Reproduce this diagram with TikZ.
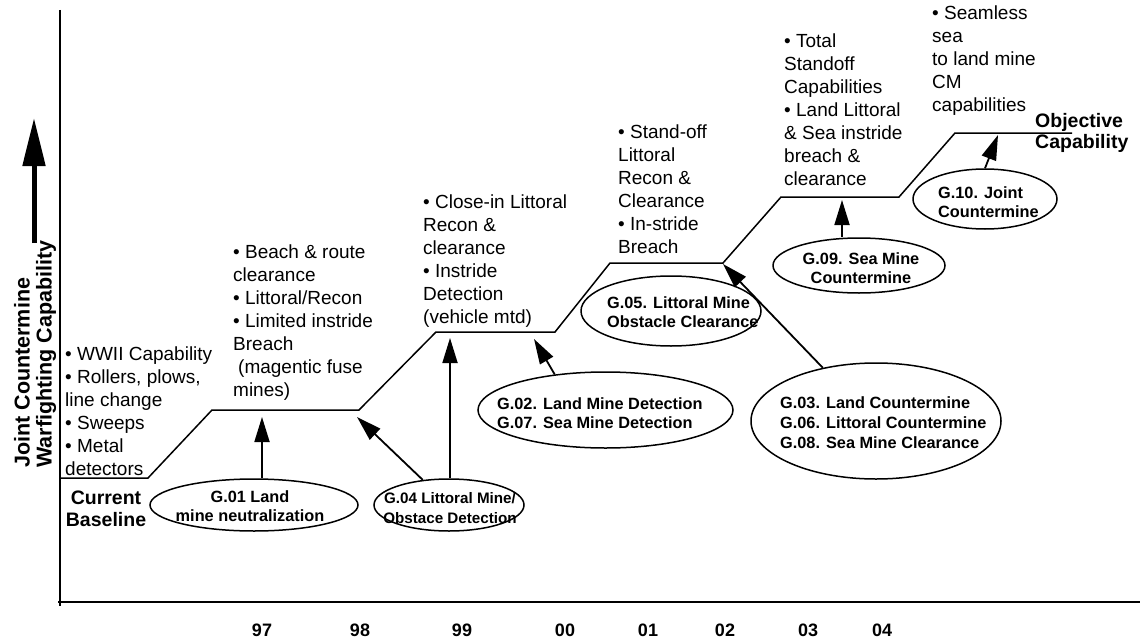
\documentclass[tikz,border=0pt]{standalone}
\usepackage{fontspec}
\setmainfont{Liberation Sans}
\usetikzlibrary{shapes.geometric,arrows.meta}

\begin{document}
\begin{tikzpicture}[x=1pt,y=-1pt,
  every node/.style={inner sep=0pt},
  bullets/.style={align=left, anchor=west, font=\fontsize{19}{23}\selectfont},
  goal/.style={draw, ellipse, line width=1.5pt, inner sep=0pt},
  goaltext/.style={font=\fontsize{16.3}{19.5}\selectfont\bfseries},
  boldlabel/.style={font=\fontsize{19.5}{21.5}\selectfont\bfseries},
  yearlabel/.style={font=\fontsize{18}{20}\selectfont\bfseries},
  feed/.style={line width=1.8pt, -{Triangle[length=25pt,width=15pt]}},
  stair/.style={line width=1.5pt},
]
\useasboundingbox (0,0) rectangle (1140,642);

% axes
\draw[line width=2pt] (60,10) -- (60,606);
\draw[line width=2pt] (58,602) -- (1140,602);

% vertical axis title with its arrow
\coordinate (ya) at (34,243);
\coordinate (yb) at (34,118);
\draw[line width=5pt, -{Triangle[length=48pt,width=22pt]}] (ya) -- (yb);
\node[rotate=90, anchor=west, align=left, font=\fontsize{21.5}{22}\selectfont\bfseries]
  (ylab) at (35,468) {Joint Countermine\\Warfighting Capability};

% capability staircase
\draw[stair] (60,478) -- (148,478) -- (212,410) -- (359,410) -- (436,332)
  -- (555,332) -- (610,263) -- (723,263) -- (781,197) -- (899,197)
  -- (955,133) -- (1072,133);

% end labels
\node[boldlabel, align=center] (base) at (106,509) {Current\\Baseline};
\node[boldlabel, align=left, anchor=west] (obj) at (1035,133) {Objective\\Capability};

% capability descriptions
\node[bullets] (c0) at (65,411) {• WWII Capability\\• Rollers, plows,\\line change\\• Sweeps\\• Metal\\detectors};
\node[bullets] (c1) at (233,323) {• Beach \& route\\clearance\\• Littoral/Recon\\• Limited instride\\Breach\\\hspace*{5pt}(magentic fuse\\mines)};
\node[bullets] (c2) at (423,261) {• Close-in Littoral\\Recon \&\\clearance\\• Instride\\Detection\\(vehicle mtd)};
\node[bullets] (c3) at (618,189) {• Stand-off\\Littoral\\Recon \&\\Clearance\\• In-stride\\Breach};
\node[bullets] (c4) at (784,110) {• Total\\Standoff\\Capabilities\\• Land Littoral\\\& Sea instride\\breach \&\\clearance};
\node[bullets] (c5) at (932,61) {• Seamless\\sea\\to land mine\\CM\\capabilities};

% goal ellipses
\node[goal, minimum width=208pt, minimum height=52pt] (g01) at (254,505) {};
\node[goal, minimum width=150pt, minimum height=52pt] (g04) at (449,505) {};
\node[goal, minimum width=255pt, minimum height=76pt] (g02) at (605.5,410) {};
\node[goal, minimum width=180pt, minimum height=70pt] (g05) at (671,311) {};
\node[goal, minimum width=250pt, minimum height=116pt] (g03) at (876,421) {};
\node[goal, minimum width=172pt, minimum height=55pt] (g09) at (859,265.5) {};
\node[goal, minimum width=144pt, minimum height=60pt] (g10) at (985,199) {};

\node[goaltext, align=center] (g01t) at (250,506) {G.01 Land\\mine neutralization};
\node[goaltext, align=center, font=\fontsize{15.2}{19.5}\selectfont\bfseries] (g04t) at (450,508) {G.04 Littoral Mine/\\Obstace Detection};
\node[goaltext, align=left, anchor=west] (g02t) at (497,413) {G.02. Land Mine Detection\\G.07. Sea Mine Detection};
\node[goaltext, align=left, anchor=west] (g05t) at (607,312) {G.05. Littoral Mine\\Obstacle Clearance};
\node[goaltext, align=left, anchor=west, font=\fontsize{16.3}{20}\selectfont\bfseries] (g03t) at (780,423) {G.03. Land Countermine\\G.06. Littoral Countermine\\G.08. Sea Mine Clearance};
\node[goaltext, align=center] (g09t) at (861,268) {G.09. Sea Mine\\Countermine};
\node[goaltext, align=left, anchor=west] (g10t) at (938,202) {G.10. Joint\\Countermine};

% arrow targets on the staircase
\coordinate (t01) at (262,417);
\coordinate (t04a) at (357,417);
\coordinate (t04b) at (450,338);
\coordinate (t02) at (534,339);
\coordinate (t03) at (723,264);
\coordinate (t09) at (842,200);
\coordinate (t10) at (998,135);

\draw[feed] (t01 |- g01.north) -- (t01);
\draw[feed] (g04) -- (t04a);
\draw[feed] (t04b |- g04.north) -- (t04b);
\draw[feed] (g02.145) -- (t02);
\draw[feed] (g03.135) -- (t03);
\draw[feed] (t09 |- g09.north) -- (t09);
\draw[feed] (g10.north) -- (t10);

% years
\node[yearlabel] (y97) at (262,630) {97};
\node[yearlabel] (y98) at (360,630) {98};
\node[yearlabel] (y99) at (462,630) {99};
\node[yearlabel] (y00) at (565,630) {00};
\node[yearlabel] (y01) at (648,630) {01};
\node[yearlabel] (y02) at (725,630) {02};
\node[yearlabel] (y03) at (808,630) {03};
\node[yearlabel] (y04) at (882,630) {04};
\end{tikzpicture}
\end{document}
